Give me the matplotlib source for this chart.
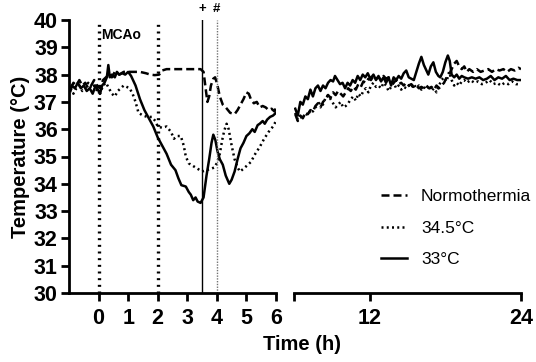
import matplotlib
matplotlib.use("Agg")
import matplotlib.pyplot as plt
from matplotlib.lines import Line2D

plt.rcParams['font.family'] = ['Liberation Sans', 'DejaVu Sans']

# ---- data ----
# 0-6 h, left panel
normo_t = [-0.95, -0.85, -0.75, -0.65, -0.55, -0.45, -0.35, -0.25, -0.15, -0.05,
           0.05, 0.15, 0.25, 0.35, 0.45, 0.55, 0.7, 0.85, 1.0, 1.2, 1.4, 1.6,
           1.75, 1.9, 2.05, 2.15, 2.3, 2.6, 3.0, 3.45, 3.55, 3.62, 3.68, 3.74,
           3.8, 3.88, 3.94, 4.0, 4.1, 4.2, 4.3, 4.45, 4.6, 4.7, 4.8, 4.9, 5.0,
           5.08, 5.15, 5.25, 5.35, 5.45, 5.55, 5.65, 5.75, 5.85, 5.95, 6.0]
normo_v = [37.5, 37.7, 37.6, 37.8, 37.6, 37.7, 37.5, 37.6, 37.8, 37.6,
           37.5, 37.8, 37.9, 38.0, 37.9, 38.1, 38.0, 38.1, 38.1, 38.1, 38.1, 38.05,
           38.0, 37.98, 38.0, 38.15, 38.2, 38.2, 38.2, 38.2, 38.1, 37.5, 37.0, 37.2,
           37.6, 37.85, 37.9, 37.7, 37.2, 36.9, 36.8, 36.6, 36.55, 36.7, 36.9, 37.1, 37.35,
           37.3, 37.1, 36.95, 37.0, 36.8, 36.85, 36.8, 36.7, 36.75, 36.65, 36.8]

mild_t = [-0.95, -0.85, -0.75, -0.65, -0.55, -0.45, -0.35, -0.25, -0.15, -0.05,
          0.05, 0.15, 0.25, 0.35, 0.45, 0.55, 0.65, 0.75, 0.85, 0.95, 1.05, 1.15,
          1.25, 1.35, 1.5, 1.65, 1.8, 1.92, 2.0, 2.15, 2.3, 2.45, 2.55, 2.65,
          2.78, 2.88, 2.95, 3.05, 3.2, 3.35, 3.5, 3.65, 3.8, 3.92, 4.02, 4.1,
          4.18, 4.25, 4.33, 4.4, 4.5, 4.6, 4.7, 4.78, 4.9, 5.0, 5.15, 5.3,
          5.45, 5.6, 5.75, 5.9, 6.0]
mild_v = [37.5, 37.3, 37.5, 37.6, 37.4, 37.5, 37.7, 37.5, 37.6, 37.4,
          37.3, 37.6, 37.7, 37.5, 37.3, 37.2, 37.4, 37.5, 37.6, 37.55, 37.5, 37.3,
          37.0, 36.6, 36.5, 36.45, 36.45, 36.3, 36.1, 36.05, 36.1, 35.9, 35.65, 35.75,
          35.75, 35.4, 35.0, 34.75, 34.65, 34.55, 34.45, 34.5, 34.55, 34.6, 34.8, 35.1,
          35.6, 35.95, 36.2, 36.0, 35.4, 34.9, 34.6, 34.45, 34.55, 34.65, 34.8, 35.1,
          35.35, 35.65, 35.9, 36.1, 36.3]

deep_t = [-0.95, -0.9, -0.8, -0.7, -0.6, -0.5, -0.4, -0.3, -0.2, -0.1, 0.0,
          0.05, 0.12, 0.2, 0.28, 0.33, 0.38, 0.45, 0.55, 0.62, 0.7, 0.8, 0.9,
          1.0, 1.1, 1.25, 1.4, 1.55, 1.7, 1.85, 2.0, 2.15, 2.3, 2.45, 2.6, 2.7,
          2.8, 2.95, 3.05, 3.12, 3.2, 3.28, 3.35, 3.45, 3.55, 3.65, 3.74, 3.82,
          3.88, 3.95, 4.02, 4.1, 4.2, 4.3, 4.42, 4.5, 4.6, 4.7, 4.8, 4.9, 5.0,
          5.1, 5.2, 5.28, 5.38, 5.45, 5.55, 5.62, 5.7, 5.8, 5.9, 6.0]
deep_v = [37.4, 37.6, 37.5, 37.7, 37.5, 37.6, 37.4, 37.5, 37.3, 37.6, 37.4,
          37.3, 37.6, 37.7, 37.9, 38.35, 37.9, 38.0, 37.9, 38.1, 38.0, 38.05, 38.0,
          38.1, 37.95, 37.6, 37.1, 36.7, 36.4, 36.1, 35.7, 35.4, 35.1, 34.7, 34.5, 34.2,
          33.95, 33.9, 33.7, 33.6, 33.4, 33.5, 33.35, 33.3, 33.5, 34.3, 34.9, 35.5,
          35.8, 35.6, 35.2, 34.9, 34.7, 34.3, 34.0, 34.15, 34.45, 34.9, 35.3, 35.5, 35.75,
          35.85, 36.0, 35.9, 36.15, 36.2, 36.3, 36.2, 36.35, 36.45, 36.5, 36.6]

# 6-24 h, right panel
normo_t2 = [6.1, 6.3, 6.5, 6.7, 6.9, 7.1, 7.3, 7.5, 7.7, 7.9, 8.1, 8.3, 8.5, 8.7,
            8.9, 9.1, 9.3, 9.5, 9.7, 9.9, 10.1, 10.3, 10.5, 10.7, 10.9, 11.1, 11.3,
            11.5, 11.7, 11.9, 12.1, 12.3, 12.5, 12.7, 12.9, 13.1, 13.3, 13.5, 13.7,
            13.9, 14.1, 14.3, 14.5, 14.7, 14.9, 15.1, 15.3, 15.5, 15.7, 15.9, 16.1,
            16.3, 16.5, 16.7, 16.9, 17.1, 17.3, 17.5, 17.7, 17.9, 18.1, 18.3, 18.5,
            18.7, 18.9, 19.1, 19.3, 19.5, 19.7, 19.9, 20.2, 20.5, 20.8, 21.1, 21.4,
            21.7, 22.0, 22.3, 22.6, 22.9, 23.2, 23.5, 23.8, 24.0]
normo_v2 = [36.55, 36.3, 36.5, 36.4, 36.6, 36.55, 36.7, 36.65, 36.85, 36.95, 36.8, 37.0, 37.1, 37.25,
            37.15, 37.35, 37.25, 37.4, 37.3, 37.2, 37.35, 37.5, 37.4, 37.55, 37.45, 37.65, 37.55,
            37.75, 37.7, 37.85, 37.8, 37.95, 37.85, 37.9, 37.8, 37.95, 37.85, 37.9, 37.75,
            37.7, 37.8, 37.65, 37.7, 37.6, 37.7, 37.6, 37.65, 37.55, 37.6, 37.5, 37.55,
            37.5, 37.6, 37.5, 37.55, 37.45, 37.6, 37.5, 37.6, 37.7, 37.9, 38.0, 38.2,
            38.4, 38.5, 38.3, 38.2, 38.3, 38.1, 38.2, 38.1, 38.2, 38.1, 38.15, 38.2,
            38.1, 38.2, 38.15, 38.2, 38.1, 38.2, 38.15, 38.25, 38.2]

mild_t2 = [6.1, 6.3, 6.5, 6.7, 6.9, 7.1, 7.3, 7.5, 7.7, 7.9, 8.1, 8.3, 8.5, 8.7,
           8.9, 9.1, 9.3, 9.5, 9.7, 9.9, 10.1, 10.3, 10.5, 10.7, 10.9, 11.1, 11.3,
           11.5, 11.7, 11.9, 12.1, 12.3, 12.5, 12.7, 12.9, 13.1, 13.3, 13.5, 13.7,
           13.9, 14.1, 14.3, 14.5, 14.7, 14.9, 15.1, 15.3, 15.5, 15.7, 15.9, 16.1,
           16.3, 16.5, 16.7, 16.9, 17.1, 17.3, 17.5, 17.7, 17.9, 18.1, 18.3, 18.5,
           18.7, 18.9, 19.1, 19.3, 19.5, 19.7, 20.0, 20.3, 20.6, 20.9, 21.2, 21.5,
           21.8, 22.1, 22.4, 22.7, 23.0, 23.3, 23.6, 24.0]
mild_v2 = [36.6, 36.35, 36.45, 36.4, 36.6, 36.5, 36.7, 36.65, 36.8, 36.9, 37.0, 36.9, 37.15, 37.25,
           37.1, 36.95, 36.8, 36.9, 37.0, 36.8, 36.85, 36.95, 37.1, 37.2, 37.05, 37.3, 37.2,
           37.4, 37.5, 37.35, 37.6, 37.7, 37.55, 37.6, 37.5, 37.7, 37.6, 37.4, 37.55,
           37.7, 37.5, 37.6, 37.45, 37.55, 37.5, 37.6, 37.5, 37.65, 37.5, 37.6, 37.45,
           37.55, 37.45, 37.6, 37.4, 37.5, 37.35, 37.6, 37.8, 37.9, 37.75, 38.1, 37.8,
           37.6, 37.7, 37.6, 37.75, 37.8, 37.7, 37.8, 37.7, 37.75, 37.65, 37.7, 37.8,
           37.65, 37.7, 37.6, 37.7, 37.65, 37.75, 37.65, 37.65]

deep_t2 = [6.1, 6.3, 6.5, 6.7, 6.9, 7.1, 7.3, 7.5, 7.7, 7.9, 8.1, 8.3, 8.5, 8.7,
           8.9, 9.1, 9.25, 9.45, 9.65, 9.85, 10.05, 10.25, 10.45, 10.65, 10.85, 11.05,
           11.25, 11.45, 11.65, 11.85, 12.05, 12.3, 12.5, 12.7, 12.9, 13.1, 13.3, 13.5,
           13.7, 13.9, 14.1, 14.3, 14.5, 14.7, 14.9, 15.1, 15.3, 15.5, 15.7, 15.9,
           16.1, 16.3, 16.5, 16.65, 16.85, 17.05, 17.25, 17.45, 17.6, 17.8, 18.0, 18.2,
           18.35, 18.5, 18.7, 18.9, 19.1, 19.3, 19.5, 19.8, 20.1, 20.4, 20.7, 21.0,
           21.3, 21.6, 21.9, 22.2, 22.5, 22.8, 23.1, 23.4, 23.7, 24.0]
deep_v2 = [36.75, 36.5, 37.0, 36.9, 37.2, 37.1, 37.45, 37.2, 37.5, 37.6, 37.4, 37.6, 37.5, 37.7,
           37.8, 37.75, 37.95, 37.8, 37.65, 37.7, 37.5, 37.7, 37.6, 37.8, 37.7, 37.95,
           37.8, 38.0, 37.9, 38.05, 37.85, 38.0, 37.8, 37.95, 37.75, 37.9, 37.7, 37.9,
           37.6, 37.9, 37.8, 37.95, 37.85, 38.05, 38.15, 37.9, 37.85, 37.8, 38.1, 38.4,
           38.65, 38.35, 38.15, 38.0, 38.3, 38.45, 38.1, 37.95, 37.9, 38.1, 38.45, 38.7,
           38.5, 38.0, 37.9, 38.0, 37.85, 37.95, 37.9, 37.85, 37.9, 37.85, 37.9, 37.8,
           37.85, 37.95, 37.8, 37.9, 37.85, 37.95, 37.8, 37.85, 37.8, 37.8]

group_labels = ['Normothermia', '34.5°C', '33°C']
left_xticks = [0, 1, 2, 3, 4, 5, 6]
right_xticks = [6, 12, 24]
yticks = [30, 31, 32, 33, 34, 35, 36, 37, 38, 39, 40]

# ---- styles ----
LW = 1.8
styles = {
    'Normothermia': dict(color='k', lw=LW, ls=(0, (3.2, 1.6))),
    '34.5°C': dict(color='k', lw=LW, ls=(0, (0.8, 1.3))),
    '33°C': dict(color='k', lw=LW, ls='-'),
}
tickfont = dict(fontsize=15.5, fontweight='bold')

fig = plt.figure(figsize=(5.36, 3.62), dpi=100)
ax1 = fig.add_axes([69 / 536, 1 - 293 / 362, (276 - 69) / 536, (293 - 20) / 362])
ax2 = fig.add_axes([294 / 536, 1 - 293 / 362, (521 - 294) / 536, (293 - 20) / 362])

# left panel
ax1.plot(normo_t, normo_v, **styles['Normothermia'])
ax1.plot(mild_t, mild_v, **styles['34.5°C'])
ax1.plot(deep_t, deep_v, **styles['33°C'])
ax1.axvline(0, color='k', lw=2.4, ls=(0, (0.6, 1.4)))
ax1.axvline(2, color='k', lw=2.4, ls=(0, (0.6, 1.4)))
ax1.axvline(3.5, color='k', lw=1.0)
ax1.axvline(4, color='0.45', lw=1.0, ls=(0, (1, 1)))
ax1.text(0.08, 39.45, 'MCAo', fontsize=10, fontweight='bold', va='center', ha='left')
ax1.text(3.5, 40.42, '+', fontsize=9.5, fontweight='bold', ha='center', va='center', clip_on=False)
ax1.text(3.97, 40.42, '#', fontsize=9.5, fontweight='bold', ha='center', va='center', clip_on=False)

ax1.set_xlim(-1, 6)
ax1.set_ylim(30, 40)
ax1.set_xticks(left_xticks)
ax1.set_xticklabels([str(t) for t in left_xticks], **tickfont)
ax1.set_yticks(yticks)
ax1.set_yticklabels([str(t) for t in yticks], **tickfont)
ax1.set_ylabel('Temperature (°C)', fontsize=14.5, fontweight='bold', labelpad=3)
for s in ['top', 'right']:
    ax1.spines[s].set_visible(False)

# right panel
ax2.plot(normo_t2, normo_v2, **styles['Normothermia'])
ax2.plot(mild_t2, mild_v2, **styles['34.5°C'])
ax2.plot(deep_t2, deep_v2, **styles['33°C'])
ax2.set_xlim(6, 24)
ax2.set_ylim(30, 40)
ax2.set_xticks(right_xticks)
ax2.set_xticklabels(['', '12', '24'], **tickfont)
ax2.set_yticks([])
for s in ['top', 'right', 'left']:
    ax2.spines[s].set_visible(False)

for ax in (ax1, ax2):
    for s in ax.spines.values():
        s.set_linewidth(2)
    ax.tick_params(width=2, length=6, pad=5)
ax1.tick_params(axis='y', pad=2)

fig.text(302 / 536, 1 - 345 / 362, 'Time (h)', fontsize=14.5, fontweight='bold',
         ha='center', va='center')

handles = [Line2D([], [], **styles[g]) for g in group_labels]
fig.legend(handles, group_labels, loc='center left', bbox_to_anchor=(381 / 536, 1 - 228 / 362),
           frameon=False, fontsize=12.5, handlelength=1.5, handletextpad=0.8,
           labelspacing=0.95, borderpad=0, borderaxespad=0)

fig.savefig('out.png', dpi=100)
